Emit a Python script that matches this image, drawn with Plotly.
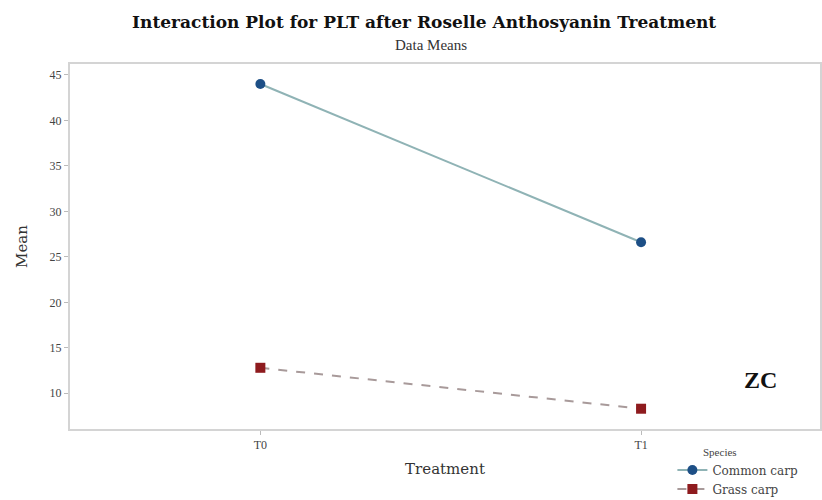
import plotly.graph_objects as go

treatments = ["T0", "T1"]
common_carp = [44.0, 26.6]
grass_carp = [12.8, 8.3]
y_ticks = [10, 15, 20, 25, 30, 35, 40, 45]

SERIF = "Liberation Serif, Times New Roman, serif"
WIDE = "DejaVu Serif, serif"

fig = go.Figure()
fig.add_trace(go.Scatter(
    x=treatments, y=common_carp, name="Common carp", mode="lines+markers",
    line=dict(color="#8fb3b5", width=2),
    marker=dict(symbol="circle", size=10, color="#1d4f86"),
))
fig.add_trace(go.Scatter(
    x=treatments, y=grass_carp, name="Grass carp", mode="lines+markers",
    line=dict(color="#a89a9a", width=2, dash="dash"),
    marker=dict(symbol="square", size=10, color="#8e1b1e"),
))

fig.add_annotation(
    x=0.92, y=0.134, xref="paper", yref="paper", xanchor="center", yanchor="middle",
    text="<b>ZC</b>", showarrow=False,
    font=dict(family=SERIF, size=24, color="#111111"),
)

fig.add_annotation(
    x=0.481, y=1.052, xref="paper", yref="paper", xanchor="center", yanchor="middle",
    text="Data Means", showarrow=False,
    font=dict(family=SERIF, size=15, color="#333333"),
)

fig.add_annotation(
    x=0.8667, y=-0.063, xref="paper", yref="paper", xanchor="center", yanchor="middle",
    text="Species", showarrow=False,
    font=dict(family=SERIF, size=11, color="#444444"),
)

fig.update_layout(
    width=822, height=500,
    paper_bgcolor="white", plot_bgcolor="white",
    margin=dict(l=70, r=2, t=64, b=71, autoexpand=False),
    font=dict(family=SERIF, color="#333333"),
    title=dict(
        text="<b>Interaction Plot for PLT after Roselle Anthosyanin Treatment</b>",
        x=0.516, xanchor="center", y=0.955, yanchor="middle",
        font=dict(family=WIDE, size=17, color="#111111"),
    ),
    xaxis=dict(
        type="category", range=[-0.5, 1.47], automargin=False,
        showgrid=False, zeroline=False,
        showline=True, linecolor="#d4d4d4", linewidth=2, mirror=True,
        ticks="outside", ticklen=4, tickcolor="#bbbbbb",
        tickfont=dict(family=SERIF, size=12, color="#444444"),
        title=dict(text="Treatment", font=dict(family=WIDE, size=15, color="#333333"), standoff=12),
    ),
    yaxis=dict(
        range=[6.07, 46.2], tickvals=y_ticks, automargin=False,
        showgrid=False, zeroline=False,
        showline=True, linecolor="#d4d4d4", linewidth=2, mirror=True,
        ticks="outside", ticklen=4, tickcolor="#bbbbbb",
        tickfont=dict(family=SERIF, size=12, color="#444444"),
        title=dict(text="Mean", font=dict(family=WIDE, size=15, color="#333333"), standoff=18),
    ),
    legend=dict(
        xref="container", yref="container",
        x=0.818, xanchor="left", y=0.089, yanchor="top",
        font=dict(family=WIDE, size=12, color="#444444"),
        bgcolor="rgba(0,0,0,0)", tracegroupgap=0, itemwidth=30,
    ),
    showlegend=True,
)

fig.write_html(
    "out.html",
    config={"displayModeBar": False},
    post_script="document.body.style.margin='0px';document.body.style.overflow='hidden';",
)
